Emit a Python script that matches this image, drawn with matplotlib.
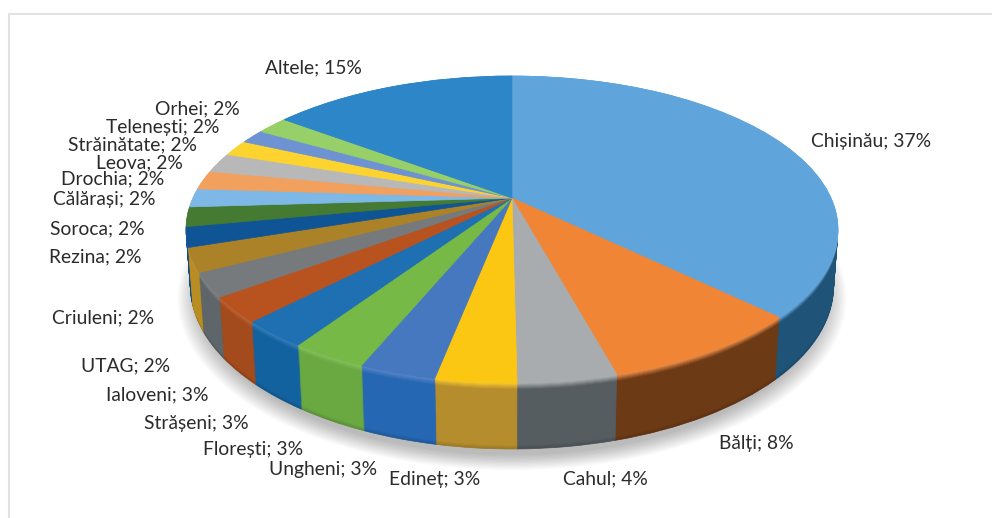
import numpy as np
import matplotlib
matplotlib.use("Agg")
import matplotlib.pyplot as plt
from matplotlib.colors import to_rgb
from matplotlib.transforms import Transform

plt.rcParams["font.family"] = ["Lato", "DejaVu Sans"]

# -------------------------
# Data
# -------------------------
names = ["Chișinău", "Bălți", "Cahul", "Edineț", "Ungheni", "Florești", "Strășeni",
         "Ialoveni", "UTAG", "Criuleni", "Rezina", "Soroca", "Călărași", "Drochia",
         "Leova", "Străinătate", "Telenești", "Orhei", "Altele"]
shares = [37.25, 8.5, 4.05, 3.3, 3.15, 3.15, 2.85, 2.65, 2.5, 2.5,
          2.1, 2.05, 1.95, 2.0, 2.1, 1.7, 1.5, 1.9, 14.8]
shown_pct = [37, 8, 4, 3, 3, 3, 3, 3, 2, 2, 2, 2, 2, 2, 2, 2, 2, 2, 15]

top_colors = ["#5fa5dc", "#f08535", "#a9acae", "#fcc712", "#4678c0", "#76b947", "#1f70b3",
              "#b8521f", "#777a7c", "#ab8228", "#0f5596", "#447a32", "#7db8e6", "#f2a05e",
              "#b8b8b8", "#fdd42f", "#6e93d2", "#97cf68", "#2d86c8"]
wall_colors = ["#1f5478", "#6d3a16", "#565d60", "#b58d2c", "#2567b3", "#6aa842", "#12629f",
               "#a34b1c", "#5f6669", "#b98d22", "#0f4a80", "#3a6a2b", "#6aa0cc", "#d08a50",
               "#a0a0a0", "#d8b428", "#5f80b8", "#84b45a", "#236fa8"]

# label anchor: left edge and middle, in pixels
label_x = [811, 719, 563, 389, 269, 203, 144, 106, 81, 52, 49, 50, 53, 61, 96, 68, 106, 155, 265]
label_y = [142, 444, 479, 480, 470, 450, 423, 395, 366, 318, 257, 229, 199, 179, 163, 145, 127, 109, 68]


# -------------------------
# Perspective of the disc
# -------------------------
class Perspective(Transform):
    input_dims = 2
    output_dims = 2
    is_affine = False

    def __init__(self, z=0.0):
        super().__init__()
        self.z = z

    def transform_non_affine(self, values):
        values = np.asarray(values)
        u, v = values[:, 0], values[:, 1]
        w = 1 + 0.205 * v + 0.013 * self.z
        return np.column_stack([512 + 319 * u / w, 198 - (147 * v - 55.8 * self.z) / w])


def draw_layer(ax, colors, z):
    wedges, _ = ax.pie(shares, colors=colors, startangle=90, counterclock=False,
                       labeldistance=None)
    for wedge in wedges:
        wedge.set_edgecolor(wedge.get_facecolor())
        wedge.set_linewidth(0.5)
        wedge.set_transform(Perspective(z) + ax.transData)


def mix(a, b, t):
    a, b = np.array(to_rgb(a)), np.array(to_rgb(b))
    return tuple(a + (b - a) * t)


# -------------------------
# Plot
# -------------------------
fig = plt.figure(figsize=(9.92, 5.18), dpi=100)
ax = fig.add_axes([0, 0, 1, 1])

# soft shadow under the pie
for r in np.linspace(1.04, 0.98, 12):
    wedges, _ = ax.pie([sum(shares)], colors=["#000000"], startangle=90, radius=r,
                       labeldistance=None, wedgeprops={"alpha": 0.022, "linewidth": 0})
    wedges[0].set_transform(Perspective(1.17) + ax.transData)

# side wall, bottom layer first
for z in np.linspace(1, 0, 67):
    if z > 0.1:
        shade = max(0, (z - 0.94) / 0.06) * 0.15
        colors = [mix(c, "#000000", shade) for c in wall_colors]
    else:
        colors = [mix(mix(t, "#ffffff", 0.12), w, z / 0.1)
                  for t, w in zip(top_colors, wall_colors)]
    draw_layer(ax, colors, z)

# top face
draw_layer(ax, top_colors, 0)

for name, pct, x, y in zip(names, shown_pct, label_x, label_y):
    ax.text(x, y, f"{name}; {pct}%", fontsize=13.9, color="#2b2b2b", ha="left", va="center")

# frame left over from the screenshot
ax.plot([9, 9, 992], [518, 14, 14], color="#e2e2e2", lw=1.5)

ax.set_aspect("auto")
ax.set_xlim(0, 992)
ax.set_ylim(518, 0)
ax.axis("off")

fig.savefig("out.png", dpi=100, facecolor="white")
